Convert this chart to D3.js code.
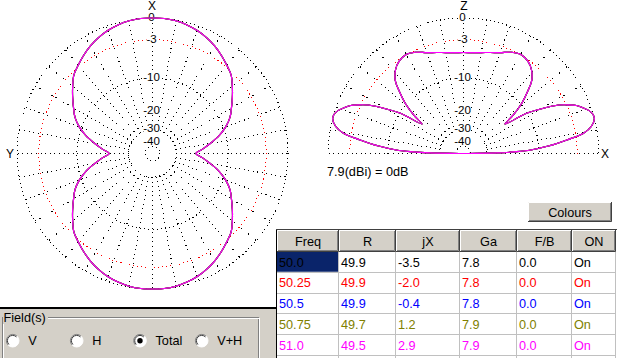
<!DOCTYPE html>
<html><head><meta charset="utf-8">
<script src="https://cdn.jsdelivr.net/npm/d3@7"></script>
<style>
body{margin:0;background:#fff}
text{font-family:"Liberation Sans",Arial,sans-serif;font-size:12px;fill:#000}
text.ui{font-size:12.7px}
text.db{font-size:11.5px}
</style>
</head><body>
<script>
// ================= DATA =================
// Azimuth (plan) pattern: angle clockwise from X axis (top), relative gain in dB
const azAngles = d3.range(0, 360, 5);
const azGain = [
  0,0,-0.1,-0.3,-0.6,-1.0,-1.5,-2.1,-2.75,-3.4,-4.5,-5.65,-6.8,-7.9,-9.5,-11.6,-14.3,-17.0,-19.5,
  -17.0,-14.3,-11.6,-9.5,-7.9,-6.8,-5.65,-4.5,-3.4,-2.75,-2.1,-1.5,-1.0,-0.6,-0.3,-0.1,0,
  0,0,-0.1,-0.3,-0.6,-1.0,-1.5,-2.1,-2.75,-3.4,-4.5,-5.65,-6.8,-7.9,-9.5,-11.6,-14.3,-17.0,-19.5,
  -17.0,-14.3,-11.6,-9.5,-7.9,-6.8,-5.65,-4.5,-3.4,-2.75,-2.1,-1.5,-1.0,-0.6,-0.3,-0.1,0
];
// Elevation pattern: elevation angle from horizon (X, right) towards Z, relative gain in dB
const elAngles = [0,1,2,3,5,7.5,9.5,12,15,17,19,21,23,25,27,29.5,32.5,35.4,37.7,40.8,44.4,47,51,55,59.5,64.5,70,75,80,85,90,
  95,100,105,110,115.5,120.5,125,129,133,135.6,139.2,142.3,144.6,147.5,150.5,153,155,157,159,161,163,165,168,170.5,172.5,175,177,178,179,180];
const elGain = [-60,-24,-16,-12,-8,-4.5,-1.9,-0.6,0,-0.05,-0.4,-1.0,-1.7,-2.8,-4.1,-6.7,-10.2,-16.8,-13.2,-9.7,-6.9,-5.2,-3.9,-3.2,-2.9,-3.25,-4.0,-4.45,-4.8,-5.0,-5.05,
  -5.0,-4.8,-4.45,-4.0,-3.25,-2.9,-3.2,-3.9,-5.2,-6.9,-9.7,-13.2,-16.8,-10.2,-6.7,-4.1,-2.8,-1.7,-1.0,-0.4,-0.05,0,-0.6,-1.9,-4.5,-8,-12,-16,-24,-60];

const gridDb = [0, -3, -10, -30, -50];
const labelDb = [0, -3, -10, -20, -30, -40];
const refGain = 7.9;

// table
const columns = ["Freq", "R", "jX", "Ga", "F/B", "ON"];
const freqs  = ["50.0", "50.25", "50.5", "50.75", "51.0"];
const Rvals  = ["49.9", "49.9", "49.9", "49.7", "49.5"];
const jXvals = ["-3.5", "-2.0", "-0.4", "1.2", "2.9"];
const GaVals = [7.8, 7.8, 7.8, 7.9, 7.9];
const FBvals = ["0.0", "0.0", "0.0", "0.0", "0.0"];
const ONvals = ["On", "On", "On", "On", "On"];
const traceColors = ["#000000", "#ff0000", "#0000ff", "#808000", "#ff00ff"];
const fields = ["V", "H", "Total", "V+H"];
const selectedField = "Total";

// ================= DRAWING =================
const W = 619, H = 358;
const svg = d3.select("body").append("svg").attr("width", W).attr("height", H).style("display", "block");
svg.append("rect").attr("width", W).attr("height", H).attr("fill", "#fff");

// ARRL-style log polar scale
const arrl = dB => Math.pow(0.89, -dB / 2);
const rad = d => d * Math.PI / 180;
const labelNudge = {"-30": -1.2, "-40": 1.2};

function polarPlot(cx, cy, R, half, angles, gains, axisLabels) {
  const rScale = d3.scaleLinear().domain([0, 1]).range([0, R]);
  const r = dB => rScale(arrl(dB));
  const g = svg.append("g");
  // circles
  gridDb.forEach(db => {
    const p = d3.path();
    if (half) p.arc(cx, cy, r(db), Math.PI, 2 * Math.PI);
    else { p.arc(cx, cy, r(db), 0, 2 * Math.PI); }
    g.append("path").attr("d", p.toString()).attr("fill", "none")
      .attr("stroke", db === -3 ? "#ff0000" : "#000").attr("stroke-width", 1)
      .attr("stroke-dasharray", "1,3.2").attr("shape-rendering", "crispEdges");
  });
  // radial lines
  const spokes = half ? d3.range(0, 181, 10) : d3.range(0, 360, 10);
  spokes.forEach(a => {
    const r0 = r(-30), r1 = R;
    const ca = Math.cos(rad(a)), sa = Math.sin(rad(a));
    g.append("line")
      .attr("x1", cx + r0 * ca).attr("y1", cy - r0 * sa)
      .attr("x2", cx + r1 * ca).attr("y2", cy - r1 * sa)
      .attr("stroke", "#000").attr("stroke-width", 1).attr("stroke-dasharray", "1,3.6")
      .attr("shape-rendering", "crispEdges");
  });
  // dB labels
  labelDb.forEach(db => {
    const t = g.append("text").attr("class", "db").attr("x", cx - 1)
      .attr("y", cy - r(db) + 3 + (labelNudge[db] || 0))
      .attr("text-anchor", "middle").text(db === 0 ? "0" : String(db));
    const bb = t.node().getBBox();
    g.insert("rect", () => t.node()).attr("x", bb.x).attr("y", bb.y + 2).attr("width", bb.width).attr("height", bb.height - 4).attr("fill", "#fff");
  });
  // axis labels
  axisLabels.forEach(l => {
    g.append("text").attr("x", l.x).attr("y", l.y).attr("text-anchor", l.anchor || "middle").text(l.t);
  });
  // traces: one per frequency, each normalised to its own maximum (they coincide; last drawn on top)
  const pts = angles.map((a, i) => [a, gains[i]]);
  const line = d3.lineRadial()
    .angle(d => half ? rad(90 - d[0]) : rad(d[0]))
    .radius(d => r(d[1]))
    .curve(d3.curveCatmullRomClosed.alpha(0.5));
  freqs.forEach((f, k) => {
    svg.append("path").attr("transform", `translate(${cx},${cy})`)
      .attr("d", line(pts)).attr("fill", "none")
      .attr("stroke", traceColors[k]).attr("stroke-width", 1.1);
  });
}

polarPlot(152.5, 153.5, 135.5, false, azAngles, azGain, [
  {t: "X", x: 152, y: 9.5},
  {t: "Y", x: 6, y: 158, anchor: "start"}
]);
polarPlot(463.5, 153.5, 135.5, true, elAngles, elGain, [
  {t: "Z", x: 464, y: 9.5},
  {t: "X", x: 601, y: 158, anchor: "start"}
]);

svg.append("text").attr("class", "ui").attr("x", 327).attr("y", 176).text(`${refGain}(dBi) = 0dB`);

// ===== Colours button =====
function button3d(x, y, w, h) {
  const b = svg.append("g");
  b.append("rect").attr("x", x).attr("y", y).attr("width", w).attr("height", h).attr("fill", "#d4d0c8");
  b.append("path").attr("d", `M${x+0.5},${y+h-1}V${y+0.5}H${x+w-1}`).attr("stroke", "#fff").attr("fill", "none");
  b.append("path").attr("d", `M${x},${y+h-0.5}H${x+w-0.5}V${y}`).attr("stroke", "#404040").attr("fill", "none");
  b.append("path").attr("d", `M${x+1},${y+h-1.5}H${x+w-1.5}V${y+1}`).attr("stroke", "#808080").attr("fill", "none");
  return b;
}
button3d(528, 202, 84, 20);
svg.append("text").attr("class", "ui").attr("x", 570).attr("y", 216.5).attr("text-anchor", "middle").text("Colours");

// ===== Table =====
const colX = [277, 339, 396, 460, 517, 572, 616];
const headTop = 230, headBot = 252, rowH = 20.75;
const tableRows = freqs.map((f, i) => [f, Rvals[i], jXvals[i], GaVals[i].toFixed(1), FBvals[i], ONvals[i]]);

columns.forEach((c, i) => {
  const x0 = colX[i], x1 = colX[i + 1];
  svg.append("rect").attr("x", x0).attr("y", headTop).attr("width", x1 - x0).attr("height", headBot - headTop).attr("fill", "#d4d0c8");
  svg.append("path").attr("d", `M${x0+0.5},${headBot-1}V${headTop+0.5}H${x1-1}`).attr("stroke", "#fff").attr("fill", "none");
  svg.append("path").attr("d", `M${x0},${headBot-0.5}H${x1-0.5}V${headTop}`).attr("stroke", "#404040").attr("fill", "none");
  svg.append("path").attr("d", `M${x0+1},${headBot-1.5}H${x1-1.5}V${headTop+1}`).attr("stroke", "#808080").attr("fill", "none");
  svg.append("text").attr("class", "ui").attr("x", (x0 + x1) / 2).attr("y", headTop + 15.5).attr("text-anchor", "middle").text(c);
});
// selected cell
svg.append("rect").attr("x", colX[0]).attr("y", headBot).attr("width", colX[1] - colX[0] - 1).attr("height", rowH - 1).attr("fill", "#0a246a");
// grid lines
tableRows.forEach((row, i) => {
  const yb = headBot + rowH * (i + 1);
  svg.append("line").attr("x1", colX[0]).attr("x2", colX[6]).attr("y1", Math.round(yb) - 0.5).attr("y2", Math.round(yb) - 0.5).attr("stroke", "#c0c0c0");
});
colX.slice(1).forEach(x => {
  svg.append("line").attr("x1", x - 0.5).attr("x2", x - 0.5).attr("y1", headBot).attr("y2", H).attr("stroke", "#c0c0c0");
});
tableRows.forEach((row, i) => {
  row.forEach((v, j) => {
    svg.append("text").attr("class", "ui").attr("x", colX[j] + 2).attr("y", headBot + rowH * i + 14.5)
      .style("fill", traceColors[i]).text(v);
  });
});
// table outer border
svg.append("line").attr("x1", 276.5).attr("x2", 276.5).attr("y1", 229).attr("y2", H).attr("stroke", "#000");
svg.append("line").attr("x1", 276).attr("x2", 617).attr("y1", 229.5).attr("y2", 229.5).attr("stroke", "#404040");

// ===== Bottom panel =====
svg.append("rect").attr("x", 0).attr("y", 309).attr("width", 276).attr("height", H - 309).attr("fill", "#d4d0c8");
svg.append("line").attr("x1", 0).attr("x2", 276).attr("y1", 308).attr("y2", 308).attr("stroke", "#000").attr("stroke-width", 2);
// group box
svg.append("rect").attr("x", 2.5).attr("y", 317.5).attr("width", 256).attr("height", 50).attr("fill", "none").attr("stroke", "#808080");
svg.append("rect").attr("x", 3.5).attr("y", 318.5).attr("width", 256).attr("height", 50).attr("fill", "none").attr("stroke", "#fff");
svg.append("rect").attr("x", 3).attr("y", 310).attr("width", 45).attr("height", 14).attr("fill", "#d4d0c8");
svg.append("text").attr("class", "ui").attr("x", 3.5).attr("y", 321.5).text("Field(s)");
const radioX = [12.7, 76.7, 140, 201.7];
fields.forEach((f, i) => {
  const cx = radioX[i], cy = 340.7;
  svg.append("circle").attr("cx", cx).attr("cy", cy).attr("r", 6.3).attr("fill", "#fff");
  const p1 = d3.path(); p1.arc(cx, cy, 6.3, Math.PI * 0.75, Math.PI * 1.75);
  svg.append("path").attr("d", p1.toString()).attr("fill", "none").attr("stroke", "#808080");
  const p2 = d3.path(); p2.arc(cx, cy, 5.3, Math.PI * 0.75, Math.PI * 1.75);
  svg.append("path").attr("d", p2.toString()).attr("fill", "none").attr("stroke", "#404040");
  const p3 = d3.path(); p3.arc(cx, cy, 6.3, Math.PI * 1.75, Math.PI * 2.75);
  svg.append("path").attr("d", p3.toString()).attr("fill", "none").attr("stroke", "#fff");
  if (f === selectedField) svg.append("circle").attr("cx", cx).attr("cy", cy).attr("r", 2.7).attr("fill", "#000");
  svg.append("text").attr("class", "ui").attr("x", cx + 15.5).attr("y", 345).text(f);
});
</script>
</body></html>
